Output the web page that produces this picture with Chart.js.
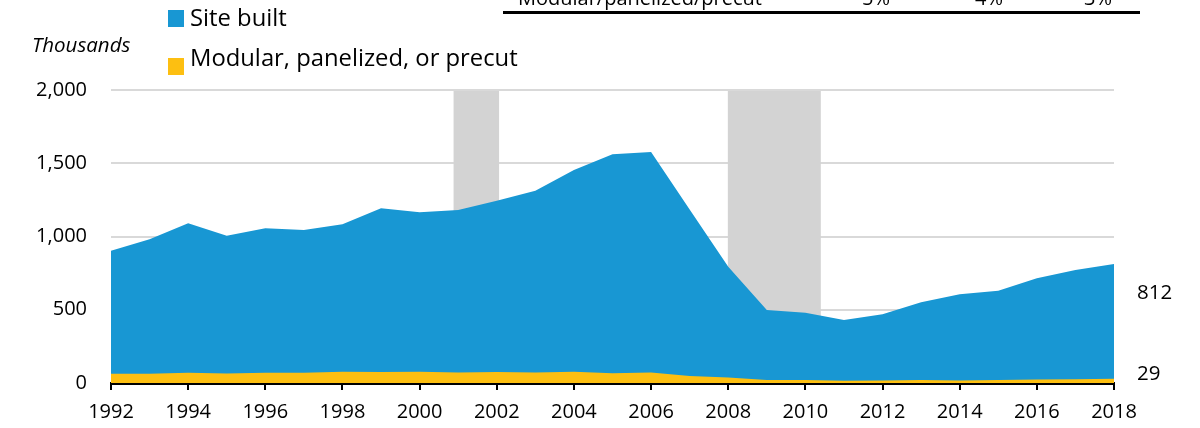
<!DOCTYPE html>
<html>
<head>
<meta charset="utf-8">
<script src="https://cdn.jsdelivr.net/npm/chart.js@4.4.1/dist/chart.umd.min.js"></script>
<style>
  html, body { margin: 0; padding: 0; background: #fff; }
  #wrap { position: relative; width: 1200px; height: 428px; overflow: hidden; font-family: "Open Sans", "Noto Sans", sans-serif; color: #000; }
  #chart { position: absolute; left: 0; top: 0; }
  .abs { position: absolute; white-space: nowrap; line-height: 1; }
  .sq { position: absolute; width: 16px; height: 17px; }
  #tableLine { position: absolute; left: 503px; top: 11px; width: 637px; height: 3px; background: #000; }
</style>
</head>
<body>
<div id="wrap">
  <canvas id="chart" width="1200" height="428"></canvas>
  <div class="abs" style="left:518px; top:-12px; font-size:20px;">Modular/panelized/precut</div>
  <div class="abs" style="left:862px; top:-12px; font-size:20px;">5%</div>
  <div class="abs" style="left:975px; top:-12px; font-size:20px;">4%</div>
  <div class="abs" style="left:1084px; top:-12px; font-size:20px;">3%</div>
  <div id="tableLine"></div>
  <div class="sq" style="left:168px; top:10px; background:#1897d3;"></div>
  <div class="abs" style="left:190px; top:6px; font-size:23.8px;">Site built</div>
  <div class="sq" style="left:168px; top:58px; background:#fdbf11;"></div>
  <div class="abs" style="left:190px; top:46px; font-size:23.8px;">Modular, panelized, or precut</div>
  <div class="abs" style="left:32px; top:34px; font-size:20.5px; font-style:italic;">Thousands</div>
</div>
<script>
const years = [1992,1993,1994,1995,1996,1997,1998,1999,2000,2001,2002,2003,2004,2005,2006,2007,2008,2009,2010,2011,2012,2013,2014,2015,2016,2017,2018];
const siteBuilt = [903,981,1090,1005,1056,1044,1083,1192,1165,1181,1244,1313,1454,1561,1577,1185,794,498,480,430,469,551,605,630,715,771,812];
const modular = [63,63,70,65,70,70,77,75,77,72,75,72,77,66,72,48,37,20,20,15,17,20,17,20,24,26,29];
const recessionStarts = [2000.88, 2007.99];
const recessionEnds = [2002.06, 2010.4];
const yTicks = [0, 500, 1000, 1500, 2000];
const xTickYears = [1992,1994,1996,1998,2000,2002,2004,2006,2008,2010,2012,2014,2016,2018];

const BLUE = '#1897d3';
const YELLOW = '#fdbf11';
const FONT = '"Open Sans", "Noto Sans", sans-serif';

const recessionPlugin = {
  id: 'recessions',
  beforeDatasetsDraw(chart) {
    const {ctx, chartArea, scales} = chart;
    ctx.save();
    ctx.fillStyle = '#d3d3d3';
    for (let i = 0; i < recessionStarts.length; i++) {
      const x0 = scales.x.getPixelForValue(recessionStarts[i]);
      const x1 = scales.x.getPixelForValue(recessionEnds[i]);
      ctx.fillRect(x0, chartArea.top + 1, x1 - x0, chartArea.bottom - chartArea.top - 1);
    }
    ctx.restore();
  }
};

const endLabelPlugin = {
  id: 'endLabels',
  afterDatasetsDraw(chart) {
    const {ctx, scales, chartArea} = chart;
    ctx.save();
    ctx.font = '20.5px ' + FONT;
    ctx.fillStyle = '#000';
    ctx.textAlign = 'left';
    ctx.textBaseline = 'middle';
    const lastS = siteBuilt[siteBuilt.length - 1];
    const lastM = modular[modular.length - 1];
    ctx.fillText(String(lastS), chartArea.right + 23, scales.y.getPixelForValue(lastS) + 29);
    ctx.fillText(String(lastM), chartArea.right + 23, scales.y.getPixelForValue(lastM) - 5);
    ctx.restore();
  }
};

const toXY = (arr) => arr.map((v, i) => ({x: years[i], y: v}));

new Chart(document.getElementById('chart'), {
  type: 'line',
  data: {
    datasets: [
      { label: 'Modular, panelized, or precut', data: toXY(modular), fill: 'origin', backgroundColor: YELLOW, borderWidth: 0, pointRadius: 0, tension: 0, order: 0 },
      { label: 'Site built', data: toXY(siteBuilt), fill: 'origin', backgroundColor: BLUE, borderWidth: 0, pointRadius: 0, tension: 0, order: 1 }
    ]
  },
  options: {
    responsive: false,
    animation: false,
    events: [],
    layout: { padding: { left: 0, right: 86, top: 90, bottom: 0 } },
    plugins: { legend: { display: false }, tooltip: { enabled: false } },
    scales: {
      x: {
        type: 'linear',
        min: 1992, max: 2018,
        afterBuildTicks(scale) { scale.ticks = xTickYears.map(v => ({value: v})); },
        afterFit(scale) { scale.height = 45; },
        grid: { display: true, drawOnChartArea: false, drawTicks: true, tickLength: 7, tickColor: '#000', lineWidth: 2 },
        border: { display: true, color: '#000', width: 3 },
        ticks: { color: '#000', font: { family: FONT, size: 20 }, padding: 10, maxRotation: 0, autoSkip: false, callback: (v) => String(v) }
      },
      y: {
        min: 0, max: 2000,
        afterBuildTicks(scale) { scale.ticks = yTicks.map(v => ({value: v})); },
        afterFit(scale) { scale.width = 111; },
        grid: { drawTicks: false, lineWidth: 2, color: (c) => (c.tick && c.tick.value === 0) ? 'rgba(0,0,0,0)' : '#d9d9d9' },
        border: { display: false },
        ticks: { color: '#000', font: { family: FONT, size: 20 }, padding: 24, callback: (v) => v.toLocaleString('en-US') }
      }
    }
  },
  plugins: [recessionPlugin, endLabelPlugin]
});
</script>
</body>
</html>
